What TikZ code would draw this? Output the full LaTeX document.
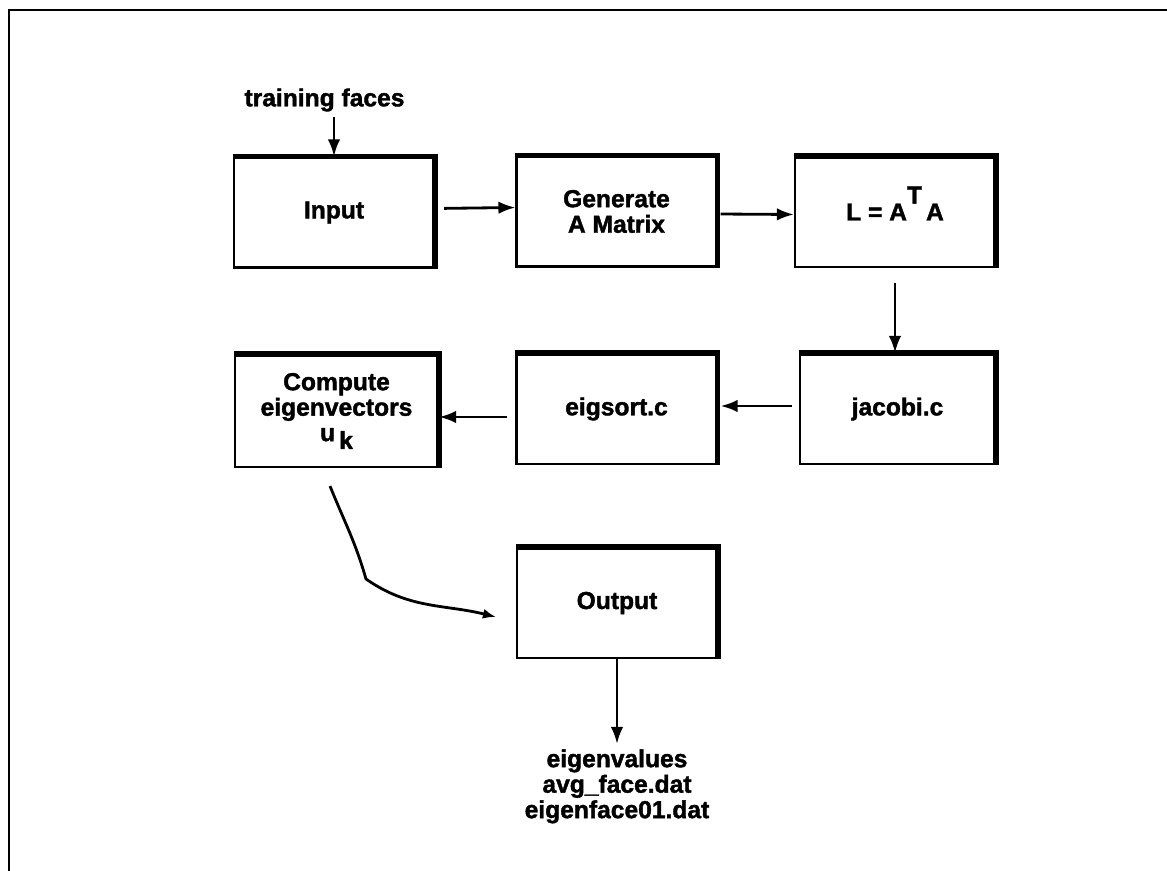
\documentclass[tikz,border=0pt]{standalone}
\usepackage{fontspec}
\setmainfont{Liberation Sans}
\newfontfamily\heavyfont{Liberation Sans Bold}[FakeBold=1.6]
\usetikzlibrary{arrows.meta,positioning,calc}

\begin{document}
\begin{tikzpicture}[
  blk/.style={rectangle, draw=black, line width=1.2pt, minimum width=4cm, minimum height=2.2cm, align=center, font=\heavyfont\fontsize{14}{14.5}\selectfont},
  lbl/.style={inner sep=0pt, align=center, font=\heavyfont\fontsize{14}{14.5}\selectfont},
  arr/.style={-{Latex[length=3.4mm,width=2.5mm]}, line width=1.6pt}
]
  \useasboundingbox (0,0) rectangle (23.34,-17.42);
  % frame, only left and top sides show
  \draw[line width=1.6pt] (0.18,-17.42) -- (0.18,-0.2) -- (23.34,-0.2);

  \node (In) [blk] at (6.68,-4.25) {Input};
  \node (Gen) [blk] at (12.33,-4.23) {Generate\\A Matrix};
  \node (LA) [blk] at (17.9,-4.24) {L = A\raisebox{1.3ex}[0pt][0pt]{T}\,A};
  \node (Jac) [blk, minimum width=3.9cm] at (17.95,-8.18) {jacobi.c};
  \node (Srt) [blk] at (12.33,-8.18) {eigsort.c};
  \node (Cmp) [blk, minimum width=4.06cm, minimum height=2.24cm] at (6.73,-8.22) {Compute\\eigenvectors\\u\,\raisebox{-0.6ex}{k}};
  \node (Out) [blk] at (12.34,-12.06) {Output};

  \node (faces) [lbl] at (6.49,-2.0) {training faces};
  \node (files) [lbl, anchor=north] at (12.34,-14.98) {eigenvalues\\avg\_face.dat\\eigenface01.dat};

  % heavy top and right edges
  \foreach \b in {In,Gen,LA,Jac,Srt,Cmp,Out}
    \draw[line width=3pt] (\b.north west) -- (\b.north east) -- (\b.south east);

  \draw[arr, shorten <=0.1cm] (faces.south -| In.north) -- (In.north);
  \draw[arr, shorten <=0.18cm] ([yshift=0.08cm]In.east) -- ([yshift=0.08cm]Gen.west);
  \draw[arr, shorten <=0.06cm] ([yshift=-0.05cm]Gen.east) -- ([yshift=-0.05cm]LA.west);
  \draw[arr, shorten <=0.3cm] (LA.south) -- (LA.south |- Jac.north);
  \draw[arr, shorten <=0.14cm, shorten >=0.06cm] ([yshift=0.06cm]Jac.west) -- ([yshift=0.06cm]Srt.east);
  \draw[arr, shorten <=0.16cm] ([yshift=-0.16cm]Srt.west) -- ([yshift=-0.16cm]Srt.west -| Cmp.east);

  \coordinate (kink) at (7.32,-11.58);
  \draw[arr, -{Latex[length=2.6mm,width=2mm]}] ([xshift=-0.13cm, yshift=-0.36cm]Cmp.south) to[out=-68,in=106] (kink)
    to[out=-35,in=166] ([xshift=-0.4cm,yshift=-0.28cm]Out.west);
  \draw[arr, shorten >=0.1cm] (Out.south) -- (files.north);
\end{tikzpicture}
\end{document}
